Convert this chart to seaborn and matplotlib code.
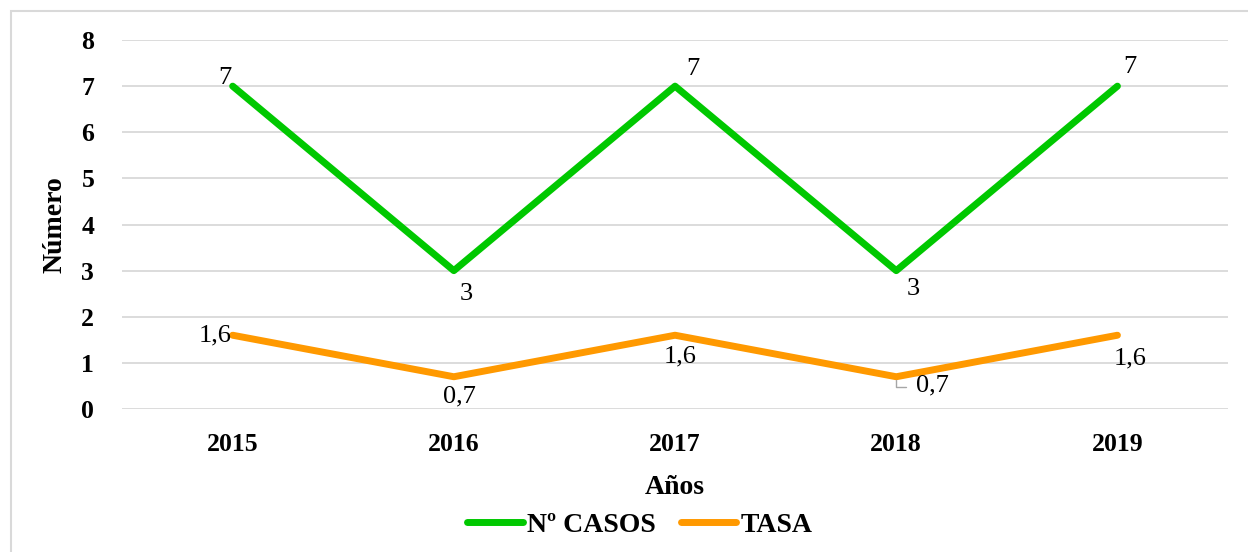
import matplotlib
matplotlib.use("Agg")
import matplotlib.pyplot as plt
import seaborn as sns
import pandas as pd
from matplotlib.patches import Rectangle

years = ["2015", "2016", "2017", "2018", "2019"]
casos = [7, 3, 7, 3, 7]
tasa = [1.6, 0.7, 1.6, 0.7, 1.6]
series_names = ["Nº CASOS", "TASA"]
colors = ["#00C800", "#FF9900"]

df = pd.DataFrame({
    "Años": years * 2,
    "Número": casos + tasa,
    "Serie": [series_names[0]] * 5 + [series_names[1]] * 5,
})

sns.set_theme(style="white")
plt.rcParams["font.family"] = ["Liberation Serif", "DejaVu Serif"]
plt.rcParams.update({"text.color": "black", "axes.labelcolor": "black",
                     "xtick.color": "black", "ytick.color": "black"})

fig = plt.figure(figsize=(12.48, 5.52), dpi=100)
ax = fig.add_axes([0.0978, 0.259, 0.8862, 0.6685])

sns.lineplot(data=df, x="Años", y="Número", hue="Serie", palette=colors,
             linewidth=5, ax=ax, sort=False, legend=True)
for ln in ax.lines:
    ln.set_solid_capstyle("round")
    ln.set_solid_joinstyle("round")

ax.set_xlim(-0.5, 4.5)
ax.set_ylim(0, 8)
ax.set_yticks(range(0, 9))
ax.yaxis.grid(True, color="#D9D9D9", linewidth=1.3)
ax.set_axisbelow(True)
for s in ax.spines.values():
    s.set_visible(False)
ax.tick_params(axis="both", length=0, labelsize=18.5, colors="black")
for t in ax.get_xticklabels() + ax.get_yticklabels():
    t.set_fontweight("bold")
ax.tick_params(axis="y", pad=20)
ax.tick_params(axis="x", pad=17)
ax.set_xlabel("Años", fontsize=20, fontweight="bold", labelpad=14, color="black")
ax.set_ylabel("Número", fontsize=20, fontweight="bold", labelpad=10, color="black")

def fmt(v):
    return (f"{v:g}").replace(".", ",")

casos_off = [(-1, 6, "right"), (9, -17, "center"), (13, 12, "center"), (12, -13, "center"), (9, 14, "center")]
tasa_off = [(-1, 0, "right"), (4, -14, "center"), (4, -15, "center"), (26, -6, "center"), (9, -17, "center")]
for i, (v, (dx, dy, ha)) in enumerate(zip(casos, casos_off)):
    ax.annotate(fmt(v), (i, v), xytext=(dx, dy), textcoords="offset points",
                ha=ha, va="center", fontsize=19, color="black")
for i, (v, (dx, dy, ha)) in enumerate(zip(tasa, tasa_off)):
    ax.annotate(fmt(v), (i, v), xytext=(dx, dy), textcoords="offset points",
                ha=ha, va="center", fontsize=19, color="black")
ax.annotate("", (3, tasa[3]), xytext=(9, -7.5), textcoords="offset points",
            arrowprops=dict(arrowstyle="-", color="#A6A6A6", lw=1,
                            connectionstyle="angle,angleA=0,angleB=90,rad=0"))

leg = ax.legend(loc="center", bbox_to_anchor=(0.468, -0.314), ncol=2,
                frameon=False, fontsize=20, handlelength=2.0, columnspacing=0.9,
                handletextpad=0.15)
for t in leg.get_texts():
    t.set_fontweight("bold")
    t.set_color("black")
for h in leg.get_lines():
    h.set_linewidth(5)
    h.set_solid_capstyle("round")

fig.patches.append(Rectangle((11 / 1248, -20 / 552), 1260 / 1248, 561 / 552,
                             transform=fig.transFigure, fill=False,
                             edgecolor="#D9D9D9", linewidth=1.5))

fig.savefig("out.png", dpi=100)
